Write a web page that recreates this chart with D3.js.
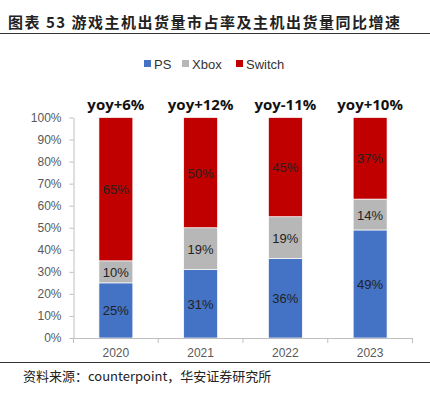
<!DOCTYPE html>
<html><head><meta charset="utf-8">
<script src="https://cdn.jsdelivr.net/npm/d3@7"></script>
<style>body{margin:0;background:#fff}svg{display:block}</style>
</head><body>
<script>
const categories = ["2020","2021","2022","2023"];
const psValues = [25,31,36,49];
const xboxValues = [10,19,19,14];
const switchValues = [65,50,45,37];
const yoyLabels = ["yoy+6%","yoy+12%","yoy-11%","yoy+10%"];
const seriesNames = ["PS","Xbox","Switch"];
const yTicks = [0,10,20,30,40,50,60,70,80,90,100];
const colors = ["#4472C4","#B7B7B7","#C00000"];

const W=430,H=396;
const svg=d3.select("body").append("svg").attr("width",W).attr("height",H);
const sans="'Liberation Sans',Arial,sans-serif";
const cjk="'Noto Sans CJK SC',sans-serif";

svg.append("text").attr("x",8).attr("y",28).attr("font-family",cjk).attr("font-weight","bold")
  .attr("font-size",15).attr("letter-spacing",1.5).attr("fill","#222")
  .text("图表 53 游戏主机出货量市占率及主机出货量同比增速");
svg.append("line").attr("x1",0).attr("x2",W).attr("y1",33.5).attr("y2",33.5).attr("stroke","#333").attr("stroke-width",1);

const x=d3.scaleBand().domain(categories).range([73.5,412.5]).paddingInner(0.6).paddingOuter(0.3);
const y=d3.scaleLinear().domain([0,100]).range([338,117.5]);

const table=categories.map((c,i)=>({cat:c,PS:psValues[i],Xbox:xboxValues[i],Switch:switchValues[i]}));
const stack=d3.stack().keys(seriesNames)(table);

// legend
const legX=[144,182,236];
seriesNames.forEach((n,i)=>{
  const g=svg.append("g");
  g.append("rect").attr("x",legX[i]).attr("y",60).attr("width",7).attr("height",7).attr("fill",colors[i]);
  g.append("text").attr("x",legX[i]+10).attr("y",69).attr("font-family",sans).attr("font-size",13).attr("fill","#333").text(n);
});

// y axis
const yAxis=svg.append("g").attr("transform","translate(73.5,0)")
  .call(d3.axisLeft(y).tickValues(yTicks).tickFormat(d=>d+"%").tickSize(4).tickSizeOuter(0));
yAxis.select(".domain").attr("stroke","#BFBFBF");
yAxis.selectAll(".tick line").attr("stroke","#BFBFBF");
yAxis.selectAll("text").attr("font-family",sans).attr("font-size",12).attr("fill","#595959").attr("dx",-5);

// bars
stack.forEach((s,si)=>{
  svg.append("g").selectAll("rect").data(s).join("rect")
    .attr("x",d=>x(d.data.cat)).attr("width",x.bandwidth())
    .attr("y",d=>y(d[1])).attr("height",d=>y(d[0])-y(d[1]))
    .attr("fill",colors[si]).attr("stroke","#fff").attr("stroke-width",0.7);
  svg.append("g").selectAll("text").data(s).join("text")
    .attr("x",d=>x(d.data.cat)+x.bandwidth()/2).attr("y",d=>(y(d[0])+y(d[1]))/2+5)
    .attr("text-anchor","middle").attr("font-family",sans).attr("font-size",13).attr("fill","#222")
    .text(d=>(d[1]-d[0])+"%");
});

// x axis
const xAxis=svg.append("g").attr("transform","translate(0,338)");
xAxis.append("line").attr("x1",73.5).attr("x2",412.5).attr("y1",0.5).attr("y2",0.5).attr("stroke","#BFBFBF");
const bounds=[0].concat(categories.map((c,i)=>i+1));
xAxis.selectAll("line.t").data(bounds).join("line").attr("class","t")
  .attr("x1",i=>73.5+i*(339/categories.length)).attr("x2",i=>73.5+i*(339/categories.length))
  .attr("y1",0).attr("y2",5).attr("stroke","#BFBFBF");
xAxis.selectAll("text").data(categories).join("text")
  .attr("x",d=>x(d)+x.bandwidth()/2).attr("y",19).attr("text-anchor","middle")
  .attr("font-family",sans).attr("font-size",12).attr("fill","#595959").text(d=>d);

// yoy labels
svg.append("g").selectAll("text").data(categories).join("text")
  .attr("x",d=>x(d)+x.bandwidth()/2).attr("y",110).attr("text-anchor","middle")
  .attr("font-family","'Open Sans',sans-serif").attr("font-weight","bold").attr("font-size",15).attr("fill","#111")
  .text((d,i)=>yoyLabels[i]);

svg.append("line").attr("x1",0).attr("x2",W).attr("y1",362.5).attr("y2",362.5).attr("stroke","#333");
svg.append("text").attr("x",23).attr("y",381).attr("font-family",cjk).attr("font-size",13).attr("fill","#222")
  .text("资料来源：counterpoint，华安证券研究所");
</script>
</body></html>
